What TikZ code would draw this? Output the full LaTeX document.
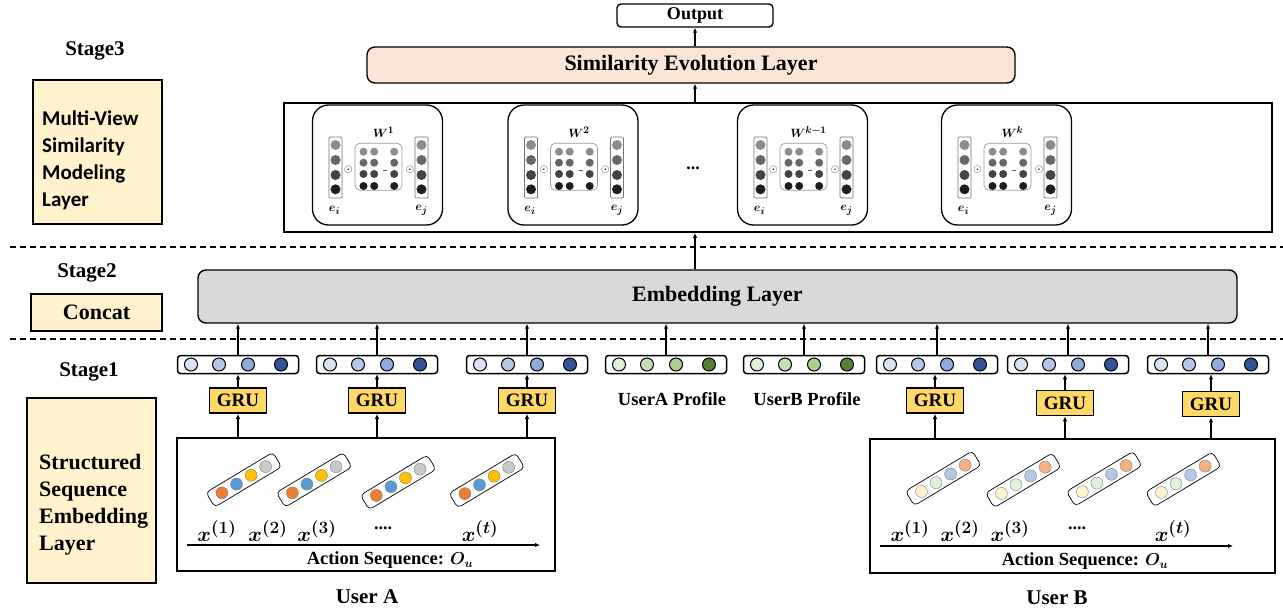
\documentclass[tikz,border=0pt]{standalone}
\usepackage{amsmath,bm}
\usepackage{fontspec}
\setmainfont{Liberation Serif}
\newfontfamily\calibrifont{Carlito}
\usetikzlibrary{arrows.meta,positioning,calc}
\DeclareMathSizes{20}{20}{16}{12}
\DeclareMathSizes{13}{13}{10}{8}

\definecolor{evofill}{HTML}{FBE5D6}
\definecolor{embfill}{HTML}{D9D9D9}
\definecolor{notefill}{HTML}{FFF2CC}
\definecolor{grufill}{HTML}{FFD966}
\definecolor{blue1}{HTML}{DAE3F3}
\definecolor{blue2}{HTML}{B4C7E7}
\definecolor{blue3}{HTML}{8FAADC}
\definecolor{blue4}{HTML}{2F5597}
\definecolor{green1}{HTML}{E2F0D9}
\definecolor{green2}{HTML}{C5E0B4}
\definecolor{green3}{HTML}{A9D18E}
\definecolor{green4}{HTML}{548235}
\definecolor{gray1}{HTML}{8C8C8C}
\definecolor{gray2}{HTML}{676767}
\definecolor{gray3}{HTML}{444444}
\definecolor{gray4}{HTML}{1E1E1E}
\definecolor{acta1}{HTML}{ED7D31}
\definecolor{acta2}{HTML}{5B9BD5}
\definecolor{acta3}{HTML}{FFC000}
\definecolor{acta4}{HTML}{C9C9C9}
\definecolor{actb1}{HTML}{FFF2CC}
\definecolor{actb2}{HTML}{E2F0D9}
\definecolor{actb3}{HTML}{B4C7E7}
\definecolor{actb4}{HTML}{F4B183}

\newcommand{\setfs}[2]{\fontsize{#1}{#2}\selectfont}

\begin{document}
\begin{tikzpicture}[x=1pt, y=-1pt,
    arr/.style={-{Latex[length=5pt,width=4.5pt]}, line width=1.2pt},
    stagetext/.style={font=\bfseries\setfs{21}{24}},
    notebox/.style={draw, line width=1.3pt, fill=notefill, inner sep=0pt},
    layerbox/.style={draw, line width=1.4pt, rounded corners=8pt, inner sep=0pt, font=\bfseries\setfs{22}{26}},
    grubox/.style={draw, line width=1.7pt, fill=grufill, minimum width=57pt, minimum height=25pt, inner sep=0pt, font=\bfseries\setfs{19}{22}},
    vecbox/.style={draw, line width=1.5pt, rounded corners=3pt, fill=white, minimum width=121pt, minimum height=18pt, inner sep=0pt},
    vecdot/.style={circle, draw, line width=1pt, minimum size=13pt, inner sep=0pt},
    userbox/.style={draw, line width=1.4pt, inner sep=0pt},
    capsule/.style={draw, line width=0.7pt, rounded corners=4pt, minimum width=78pt, minimum height=17pt, inner sep=0pt},
    actdot/.style={circle, draw=black!50, line width=0.4pt, minimum size=12pt, inner sep=0pt},
    viewbox/.style={draw, line width=1.3pt, rounded corners=16pt, fill=white, minimum width=130pt, minimum height=120pt},
    colbox/.style={draw=black!55, line width=0.7pt, rounded corners=1pt, minimum width=13pt, minimum height=61pt, inner sep=0pt},
    matbox/.style={draw=black!40, line width=0.7pt, rounded corners=5pt, minimum width=47pt, minimum height=47pt, inner sep=0pt},
    gdot/.style={circle, minimum size=10pt, inner sep=0pt},
    mdot/.style={circle, minimum size=8pt, inner sep=0pt},
    seqlabel/.style={font=\setfs{20}{22}},
    smallmath/.style={font=\setfs{13}{14}, inner sep=0pt},
  ]
  \useasboundingbox (0,0) rectangle (1283,616);

  % stage labels on the left
  \node[stagetext] (st3) at (95,51) {Stage3};
  \node[notebox, minimum width=129pt, minimum height=144pt] (mvbox) at (97.5,152) {};
  \node[font=\calibrifont\bfseries\setfs{21}{27}, align=left, anchor=west, inner sep=0pt] (mvtext) at (42,160) {Multi-View\\Similarity\\Modeling\\Layer};
  \node[stagetext] (st2) at (87,273) {Stage2};
  \node[notebox, minimum width=131pt, minimum height=37pt, font=\bfseries\setfs{22}{26}] (concat) at (96.5,312.5) {Concat};
  \node[stagetext] (st1) at (89,372) {Stage1};
  \node[notebox, minimum width=129pt, minimum height=185pt] (ssbox) at (91.5,490.5) {};
  \node[font=\bfseries\setfs{22}{27}, align=left, anchor=west, inner sep=0pt] (sstext) at (39,505) {Structured\\Sequence\\Embedding\\Layer};

  % stage separators
  \draw[line width=1.5pt, dash pattern=on 6pt off 4pt] (10,247) -- (1283,247);
  \draw[line width=1.5pt, dash pattern=on 6pt off 4pt] (10,339) -- (1283,339);

  % stage 3
  \node[draw, line width=1.4pt, rounded corners=4pt, minimum width=156pt, minimum height=23pt, inner sep=0pt, font=\bfseries\setfs{18}{20}] (out) at (695,15.5) {Output};
  \node[layerbox, fill=evofill, minimum width=648pt, minimum height=36pt] (evo) at (691,65) {Similarity Evolution Layer};
  \node[draw, line width=1.8pt, minimum width=988pt, minimum height=129pt, inner sep=0pt] (panel) at (778,167.5) {};
  \node[font=\bfseries\setfs{18}{20}] (vdots) at (693,168) {...};

  \foreach \k/\cx/\wlab in {1/377.5/1, 2/573/2, 3/802.5/{k-1}, 4/1006.5/k} {
    \node[viewbox] (view\k) at (\cx,165) {};
    \node[colbox] (view\k-ei) at (\cx-42,167.5) {};
    \node[colbox] (view\k-ej) at (\cx+44,167.5) {};
    \node[matbox] (view\k-w) at (\cx+1,166.7) {};
    \foreach \rr/\dy in {1/-22.5,2/-7.5,3/7.5,4/21.8} {
      \node[gdot, fill=gray\rr] (view\k-ei\rr) at ($(view\k-ei.center)+(0,\dy)$) {};
      \node[gdot, fill=gray\rr] (view\k-ej\rr) at ($(view\k-ej.center)+(0,\dy)$) {};
    }
    \foreach \rr/\dy in {1/-15,2/-4,3/7.3,4/19.3}
      \foreach \cc/\dx in {1/-15,2/-4.3,3/15.7}
        \node[mdot, fill=gray\rr] (view\k-w\rr\cc) at ($(view\k-w.center)+(\dx,\dy)$) {};
    \draw[black!60, line width=0.6pt] ($(view\k-w.center)+(4.5,4)$) -- ($(view\k-w.center)+(8.5,4)$);
    \node[font=\setfs{11}{11}, inner sep=0pt] (view\k-o1) at (\cx-29,169.3) {$\odot$};
    \node[font=\setfs{11}{11}, inner sep=0pt] (view\k-o2) at (\cx+32.5,169.3) {$\odot$};
    \node[smallmath] (view\k-wl) at (\cx+6,132) {$\bm{W^{\wlab}}$};
    \node[smallmath] (view\k-eil) at (\cx-43,210) {$\bm{e_i}$};
    \node[smallmath] (view\k-ejl) at (\cx+44,210) {$\bm{e_j}$};
  }

  \draw[arr] (out.south |- evo.north) -- (out.south);
  \draw[arr] (out.south |- panel.north) -- (out.south |- evo.south);

  % stage 2
  \node[layerbox, fill=embfill, minimum width=1039pt, minimum height=53pt] (emb) at (717.5,296.5) {Embedding Layer};
  \draw[arr] (out.south |- emb.north) -- (out.south |- panel.south);

  % stage 1: user sequences
  \node[userbox, minimum width=378pt, minimum height=133pt] (usera) at (366,504.5) {};
  \node[userbox, minimum width=405pt, minimum height=134pt] (userb) at (1072.5,506) {};

  \foreach \cc/\cx/\cy in {1/243.8/479.7, 2/314.2/479.8, 3/398.2/482.3, 4/486.8/480.5} {
    \node[capsule, rotate=31] (capa\cc) at (\cx,\cy) {};
    \foreach \ii/\dd in {1/-25.5,2/-8.5,3/8.5,4/25.5}
      \node[actdot, fill=acta\ii] (capa\cc-\ii) at ($(capa\cc.center)+(31:\dd pt)$) {};
  }
  \foreach \cc/\cx/\cy in {1/943.3/478.3, 2/1023.3/480.3, 3/1104.2/478.7, 4/1183.3/479.3} {
    \node[capsule, rotate=31] (capb\cc) at (\cx,\cy) {};
    \foreach \ii/\dd in {1/-25.5,2/-8.5,3/8.5,4/25.5}
      \node[actdot, fill=actb\ii] (capb\cc-\ii) at ($(capb\cc.center)+(31:\dd pt)$) {};
  }

  \foreach \ii/\lx/\lab in {1/217/1, 2/268/2, 3/317/3, t/480/t}
    \node[seqlabel] (xa\ii) at (\lx,531) {$\bm{x^{(\lab)}}$};
  \node[font=\bfseries\setfs{18}{20}] (dotsa) at (383,528) {....};
  \foreach \ii/\lx/\lab in {1/910/1, 2/960/2, 3/1010/3, t/1173/t}
    \node[seqlabel] (xb\ii) at (\lx,531) {$\bm{x^{(\lab)}}$};
  \node[font=\bfseries\setfs{18}{20}] (dotsb) at (1077,528) {....};

  \coordinate (seqa-s) at (187,545);
  \coordinate (seqa-e) at (540,545);
  \coordinate (seqb-s) at (880,546);
  \coordinate (seqb-e) at (1233,546);
  \draw[arr] (seqa-s) -- (seqa-e);
  \draw[arr] (seqb-s) -- (seqb-e);
  \node[font=\bfseries\setfs{18.5}{20}] (acta) at (390,560) {Action Sequence: $\bm{O_u}$};
  \node[font=\bfseries\setfs{18.5}{20}] (actb) at (1085,561.5) {Action Sequence: $\bm{O_u}$};
  \node[font=\bfseries\setfs{21}{24}] (usera-l) at (367,597) {User A};
  \node[font=\bfseries\setfs{21}{24}] (userb-l) at (1057,598) {User B};

  % stage 1: vectors and GRUs
  \foreach \vname/\cx/\pal in {v1/238/blue, v2/377/blue, v3/527/blue, pa/666/green, pb/804/green, v4/937/blue, v5/1068/blue, v6/1208/blue} {
    \node[vecbox] (\vname) at (\cx,364.5) {};
    \foreach \ii/\dx in {1/-47,2/-19,3/10,4/43}
      \node[vecdot, fill=\pal\ii] (\vname-\ii) at ($(\vname.center)+(\dx,0)$) {};
    \draw[arr] (\vname.north) -- (\vname.north |- emb.south);
  }
  \node[font=\bfseries\setfs{18.5}{20}] (pa-l) at (672,399) {UserA Profile};
  \node[font=\bfseries\setfs{18.5}{20}] (pb-l) at (807,399) {UserB Profile};

  \foreach \gname/\cx/\cy/\vname/\usr in {g1/238/400.5/v1/usera, g2/377/400.5/v2/usera, g3/527/400.5/v3/usera, g4/935/400.5/v4/userb, g5/1065/403/v5/userb, g6/1211/404/v6/userb} {
    \node[grubox] (\gname) at (\cx,\cy) {GRU};
    \draw[arr] (\gname.north) -- (\gname.north |- \vname.south);
    \draw[arr] (\gname.south |- \usr.north) -- (\gname.south);
  }
\end{tikzpicture}
\end{document}
